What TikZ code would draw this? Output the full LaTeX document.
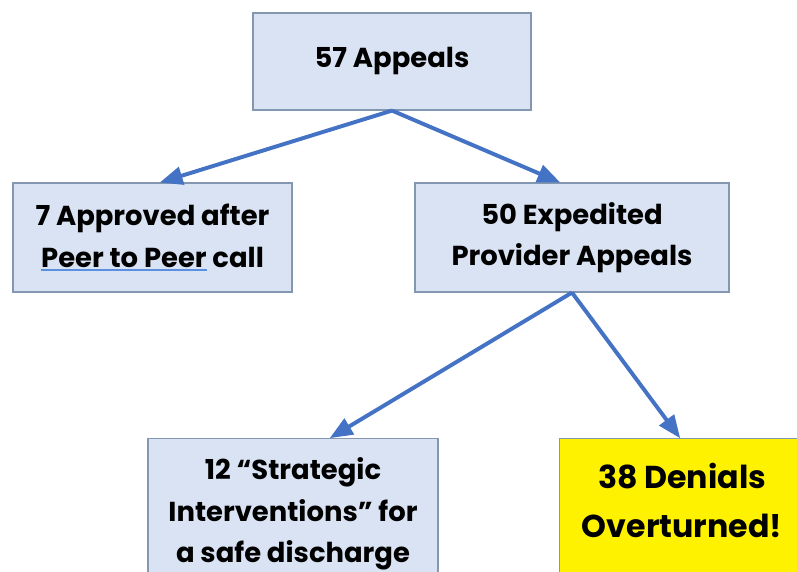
\documentclass[tikz,border=0pt]{standalone}
\usepackage{fontspec}
\setmainfont{Poppins}
\usetikzlibrary{arrows}
\definecolor{boxfill}{HTML}{DAE3F3}
\definecolor{boxline}{HTML}{8497B0}
\definecolor{flowblue}{HTML}{4472C4}
\definecolor{spellblue}{HTML}{5B8FE0}
\newcommand\spellmark[1]{\setbox0\hbox{#1}\rlap{\color{spellblue}\rule[-0.14em]{\wd0}{1.1pt}}\box0\relax}
\tikzset{
    block/.style = {draw=boxline, fill=boxfill, rectangle, line width=0.8pt,
        align=center, font=\fontsize{19.5}{29.5}\selectfont\bfseries},
    tallblock/.style = {block, anchor=north, inner ysep=0.48cm, text depth=3cm},
    winner/.style = {tallblock, fill=yellow, inner ysep=0.62cm,
        font=\fontsize{22.5}{34.5}\selectfont\bfseries},
    flow/.style = {->, draw=flowblue, line width=2.8pt},
}

\begin{document}
\begin{tikzpicture}[x=0.025cm, y=-0.025cm, >=triangle 45]
		\useasboundingbox (0,0) rectangle (797,572);
		\clip (0,0) rectangle (797,572);
		
		% top of the tree
		\node [block, minimum width=6.95cm, minimum height=2.425cm] (appeals) at (392,61.5) {57 Appeals};
		
		% second row
		\node [block, minimum width=6.975cm, minimum height=2.725cm] (approved) at (152.5,237.5) {7 Approved after\\\spellmark{Peer to Peer} call};
		\node [block, minimum width=7.85cm, minimum height=2.725cm] (expedited) at (572,237.5) {50 Expedited\\Provider Appeals};
		
		% third row, cut off at the bottom
		\node [tallblock, minimum width=7.25cm] (strategic) at (293,438) {12 ``Strategic\\Interventions'' for\\a safe discharge};
		\node [winner, minimum width=6.125cm] (overturned) at (682,438) {38 Denials\\Overturned!};
		
		%% connecting lines
		\draw [flow] (appeals.south) -- ([xshift=0.19cm]approved.north);
		\draw [flow] (appeals.south) -- ([xshift=-0.3cm]expedited.north);
		\draw [flow] (expedited.south) -- ([xshift=0.925cm]strategic.north);
		\draw [flow] (expedited.south) -- ([xshift=-0.05cm]overturned.north);
	\end{tikzpicture}
\end{document}
